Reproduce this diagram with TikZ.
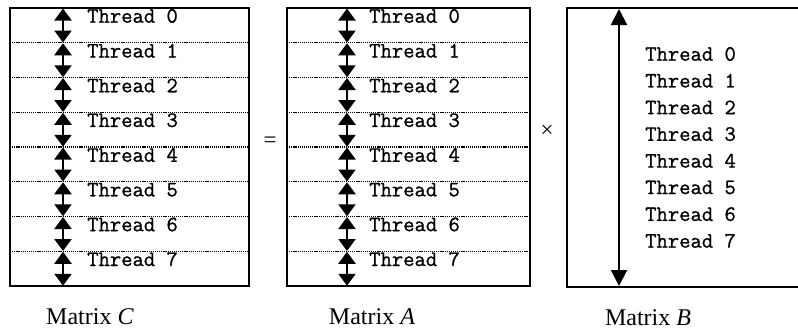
\documentclass[tikz,border=0pt]{standalone}
\usepackage{fontspec}
\setmainfont{Liberation Serif}
\newfontfamily\thrfont[FakeBold=0.9]{Latin Modern Mono}
\usetikzlibrary{arrows.meta}
\tikzset{
  frame/.style={line width=2.2pt},
  rowsep/.style={line width=1.4pt, dash pattern=on 1.2pt off 0.9pt},
  thr/.style={font=\fontsize{22}{22}\selectfont\thrfont, inner sep=0pt, anchor=west},
  rowarrow/.style={line width=2.2pt, {Triangle[width=17pt,length=12pt]}-{Triangle[width=17pt,length=12pt]}},
  longarrow/.style={line width=2pt, {Triangle[width=16pt,length=16pt]}-{Triangle[width=16pt,length=16pt]}},
  caption/.style={font=\fontsize{24}{24}\selectfont, inner sep=0pt},
  opsym/.style={font=\fontsize{23}{23}\selectfont, inner sep=0pt}
}
\begin{document}
\begin{tikzpicture}[x=1pt,y=-1pt]
\useasboundingbox (0,0) rectangle (798,330);
\fill[white] (0,0) rectangle (798,330);

% Matrix C and Matrix A, each split into eight thread rows
\foreach \m/\xl/\xr/\xa/\xt in {C/10/249/63/87, A/287/530/347/369}{
  \foreach \i in {1,...,7}{
    \coordinate (\m-l\i) at (\xl, 8+34.75*\i);
    \coordinate (\m-r\i) at (\xr, 8+34.75*\i);
    \draw[rowsep] (\m-l\i) -- (\m-r\i);
  }
  \foreach \i in {0,...,7}{
    \coordinate (\m-at\i) at (\xa, 8.5+34.75*\i);
    \coordinate (\m-ab\i) at (\xa, 42.5+34.75*\i);
    \draw[rowarrow] (\m-at\i) -- (\m-ab\i);
    \node[thr] (\m-t\i) at (\xt, 16+34.75*\i) {Thread \i};
  }
  \coordinate (\m-nw) at (\xl, 8);
  \coordinate (\m-se) at (\xr, 286);
  \draw[frame] (\m-nw) rectangle (\m-se);
}

% Matrix B, one column block shared by all threads
\coordinate (B-nw) at (567,8);
\coordinate (B-sw) at (567,287);
\coordinate (B-ne) at (800,8);
\coordinate (B-se) at (800,287);
\draw[frame] (B-ne) -- (B-nw) -- (B-sw) -- (B-se);
\coordinate (B-at) at (619,9);
\coordinate (B-ab) at (619,286);
\draw[longarrow] (B-at) -- (B-ab);
\foreach \i in {0,...,7}{
  \node[thr] (B-t\i) at (645, 54+26.7*\i) {Thread \i};
}

% operators
\node[opsym] (eq) at (270,142) {=};
\node[opsym] (times) at (547,131) {×};

% captions
\node[caption] (capC) at (90,317) {Matrix \textit{C}};
\node[caption] (capA) at (372,317) {Matrix \textit{A}};
\node[caption] (capB) at (648,318) {Matrix \textit{B}};
\end{tikzpicture}
\end{document}
